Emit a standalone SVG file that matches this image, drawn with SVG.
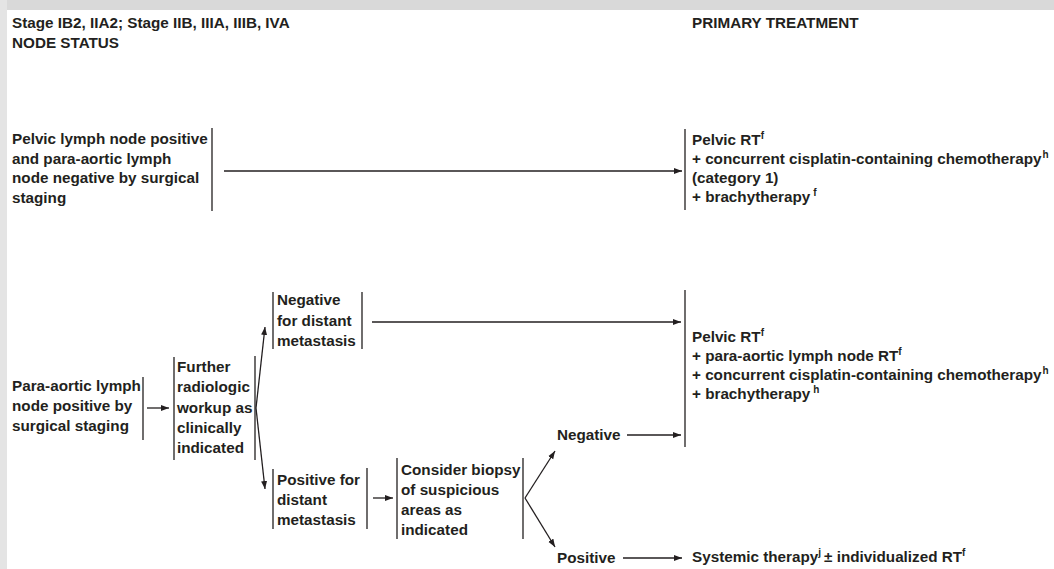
<svg xmlns="http://www.w3.org/2000/svg" width="1054" height="569" viewBox="0 0 1054 569">
<style>
text{font-family:"Liberation Sans",Arial,sans-serif;font-weight:bold;font-size:15.25px;fill:#231f20}
.sup{font-size:10px}
.bar{stroke:#231f20;stroke-width:1.3;fill:none}
.conn{stroke:#231f20;stroke-width:1.3;fill:none;marker-end:url(#ah)}
</style>
<defs>
<marker id="ah" markerUnits="userSpaceOnUse" markerWidth="9" markerHeight="7" refX="8" refY="3.5" orient="auto">
<path d="M0,0.5 L8,3.5 L0,6.5 z" fill="#231f20"/>
</marker>
</defs>
<rect x="0" y="0" width="1054" height="569" fill="#ffffff"/>
<rect x="0" y="0" width="1054" height="10" fill="#d9d9d9"/>
<rect x="0" y="0" width="7" height="569" fill="#e4e4e4"/>

<g id="headers">
<text x="12" y="28">Stage IB2, IIA2; Stage IIB, IIIA, IIIB, IVA</text>
<text x="12" y="48">NODE STATUS</text>
<text x="692" y="28">PRIMARY TREATMENT</text>
</g>

<g id="node-pelvic-positive">
<text x="12" y="144">Pelvic lymph node positive</text>
<text x="12" y="164">and para-aortic lymph</text>
<text x="12" y="183">node negative by surgical</text>
<text x="12" y="203">staging</text>
<line class="bar" x1="212" y1="128" x2="212" y2="211"/>
</g>

<g id="node-treatment-1">
<line class="bar" x1="685" y1="129" x2="685" y2="210"/>
<text x="692" y="145">Pelvic RT<tspan class="sup" dy="-6">f</tspan></text>
<text x="692" y="164">+ concurrent cisplatin-containing chemotherapy<tspan class="sup" dy="-6" dx="1">h</tspan></text>
<text x="692" y="183">(category 1)</text>
<text x="692" y="202">+ brachytherapy<tspan class="sup" dy="-6" dx="3">f</tspan></text>
</g>

<g id="node-para-aortic-positive">
<text x="12" y="391">Para-aortic lymph</text>
<text x="12" y="411">node positive by</text>
<text x="12" y="431">surgical staging</text>
<line class="bar" x1="143" y1="377" x2="143" y2="440"/>
</g>

<g id="node-further-workup">
<line class="bar" x1="174" y1="357" x2="174" y2="460"/>
<text x="177" y="372">Further</text>
<text x="177" y="392">radiologic</text>
<text x="177" y="413">workup as</text>
<text x="177" y="433">clinically</text>
<text x="177" y="453">indicated</text>
<line class="bar" x1="255" y1="356" x2="255" y2="460"/>
</g>

<g id="node-negative-distant">
<line class="bar" x1="273" y1="292" x2="273" y2="349"/>
<text x="277" y="305">Negative</text>
<text x="277" y="326">for distant</text>
<text x="277" y="346">metastasis</text>
<line class="bar" x1="362" y1="292" x2="362" y2="349"/>
</g>

<g id="node-treatment-2">
<line class="bar" x1="685" y1="290" x2="685" y2="447"/>
<text x="692" y="342">Pelvic RT<tspan class="sup" dy="-6">f</tspan></text>
<text x="692" y="361">+ para-aortic lymph node RT<tspan class="sup" dy="-6">f</tspan></text>
<text x="692" y="380">+ concurrent cisplatin-containing chemotherapy<tspan class="sup" dy="-6" dx="1">h</tspan></text>
<text x="692" y="399">+ brachytherapy<tspan class="sup" dy="-6" dx="3">h</tspan></text>
</g>

<g id="node-positive-distant">
<line class="bar" x1="273" y1="469" x2="273" y2="529"/>
<text x="277" y="485">Positive for</text>
<text x="277" y="505">distant</text>
<text x="277" y="525">metastasis</text>
<line class="bar" x1="367" y1="468" x2="367" y2="529"/>
</g>

<g id="node-biopsy">
<line class="bar" x1="397" y1="458" x2="397" y2="539"/>
<text x="401" y="475">Consider biopsy</text>
<text x="401" y="495">of suspicious</text>
<text x="401" y="515">areas as</text>
<text x="401" y="535">indicated</text>
<line class="bar" x1="523" y1="458" x2="523" y2="539"/>
</g>

<g id="node-negative">
<text x="557" y="440">Negative</text>
</g>

<g id="node-positive">
<text x="557" y="563">Positive</text>
</g>

<g id="node-systemic">
<text x="692" y="562">Systemic therapy<tspan class="sup" dy="-6">j</tspan><tspan dy="6" dx="3">± individualized RT</tspan><tspan class="sup" dy="-6">f</tspan></text>
</g>

<g id="connectors">
<line class="conn" x1="224" y1="171" x2="682" y2="171"/>
<line class="conn" x1="147" y1="408" x2="169" y2="408"/>
<line class="conn" x1="256" y1="408" x2="265" y2="327"/>
<line class="conn" x1="256" y1="408" x2="265" y2="489"/>
<line class="conn" x1="372" y1="322" x2="681" y2="322"/>
<line class="conn" x1="373" y1="498" x2="393" y2="498"/>
<line class="conn" x1="525" y1="498" x2="555" y2="451"/>
<line class="conn" x1="525" y1="498" x2="555" y2="547"/>
<line class="conn" x1="627" y1="435" x2="681" y2="435"/>
<line class="conn" x1="623" y1="558" x2="682" y2="558"/>
</g>
</svg>
